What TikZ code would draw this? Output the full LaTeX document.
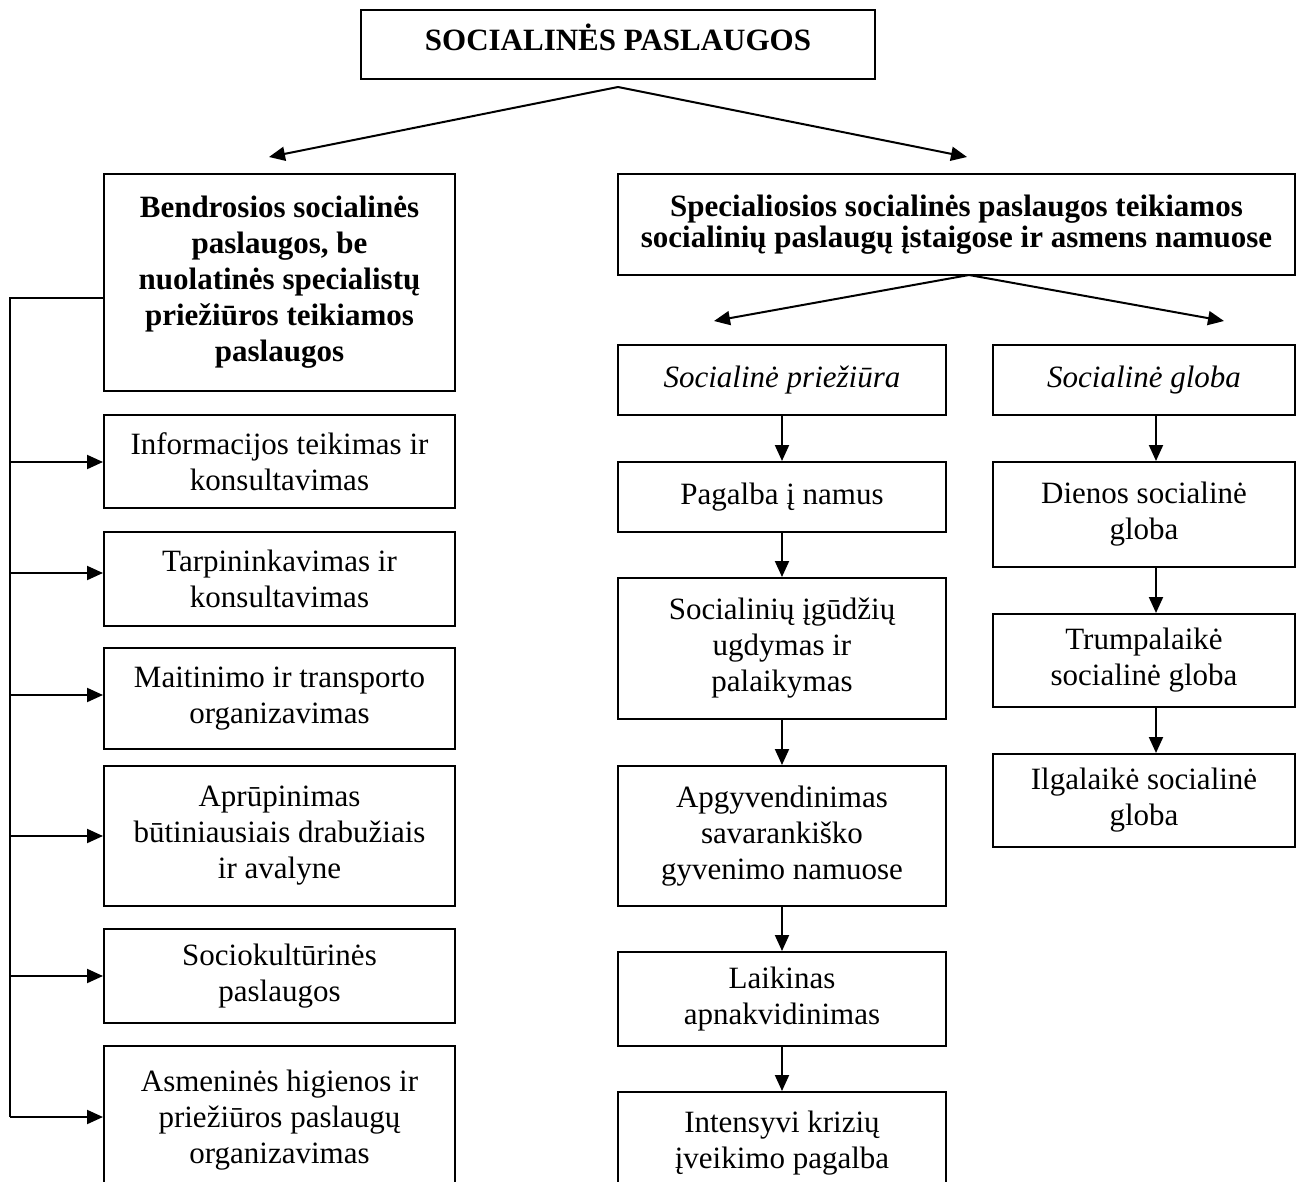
\documentclass[tikz,border=0pt]{standalone}
\usepackage{fontspec}
\setmainfont{Liberation Serif}
\usetikzlibrary{arrows.meta}
\newcommand\bx[7][]{%
  \node[box,#1,minimum width={(#5-#3)*0.5pt},minimum height={(#6-#4)*0.5pt}]
    (#2) at ({(#3+#5)/2},{(#4+#6)/2}) {#7};}
\begin{document}
\begin{tikzpicture}[x=0.5pt,y=-0.5pt,
  box/.style={draw,line width=1pt,inner sep=0pt,align=center,
    font=\fontsize{15.5}{18}\selectfont},
  tight/.style={font=\fontsize{15.5}{15.5}\selectfont\bfseries},
  arr/.style={line width=1pt,-{Triangle[length=8pt,width=7pt]}},
  ln/.style={line width=1pt}]
\useasboundingbox (0,0) rectangle (1301,1182);
% top
\bx[text depth=7pt]{top}{361}{10}{875}{79}{\textbf{SOCIALINĖS PASLAUGOS}}
\bx{bend}{104}{174}{455}{391}{\textbf{Bendrosios socialinės}\\\textbf{paslaugos, be}\\\textbf{nuolatinės specialistų}\\\textbf{priežiūros teikiamos}\\\textbf{paslaugos}}
\bx[tight]{spec}{618}{174}{1295}{275}{Specialiosios socialinės paslaugos teikiamos\\socialinių paslaugų įstaigose ir asmens namuose}
% left column
\bx{info}{104}{415}{455}{508}{Informacijos teikimas ir\\konsultavimas}
\bx{tarp}{104}{532}{455}{626}{Tarpininkavimas ir\\konsultavimas}
\bx{mait}{104}{648}{455}{749}{Maitinimo ir transporto\\organizavimas}
\bx{apru}{104}{766}{455}{906}{Aprūpinimas\\būtiniausiais drabužiais\\ir avalyne}
\bx{socio}{104}{929}{455}{1023}{Sociokultūrinės\\paslaugos}
\bx{asm}{104}{1046}{455}{1194}{Asmeninės higienos ir\\priežiūros paslaugų\\organizavimas}
% middle column
\bx{prie}{618}{345}{946}{415}{\itshape Socialinė priežiūra}
\bx{pag}{618}{462}{946}{532}{Pagalba į namus}
\bx{igud}{618}{578}{946}{719}{Socialinių įgūdžių\\ugdymas ir\\palaikymas}
\bx{apg}{618}{766}{946}{906}{Apgyvendinimas\\savarankiško\\gyvenimo namuose}
\bx{laik}{618}{952}{946}{1046}{Laikinas\\apnakvidinimas}
\bx{int}{618}{1092}{946}{1194}{Intensyvi krizių\\įveikimo pagalba}
% right column
\bx{glob}{993}{345}{1295}{415}{\itshape Socialinė globa}
\bx{dien}{993}{462}{1295}{567}{Dienos socialinė\\globa}
\bx{trum}{993}{614}{1295}{707}{Trumpalaikė\\socialinė globa}
\bx{ilg}{993}{754}{1295}{847}{Ilgalaikė socialinė\\globa}
% top arrows
\coordinate (ts) at (618,87);
\coordinate (tl) at (269,157);
\coordinate (tr) at (967,157);
\draw[arr] (ts) -- (tl);
\draw[arr] (ts) -- (tr);
% spec arrows
\coordinate (ss) at (969,275);
\coordinate (sl) at (714,321);
\coordinate (sr) at (1224,321);
\draw[arr] (ss) -- (sl);
\draw[arr] (ss) -- (sr);
% left bracket
\coordinate (bx) at (10,298);
\coordinate (bb) at (10,1117);
\draw[ln] (bend.west |- bx) -- (bx) -- (bb);
\draw[arr] (bx |- 0,462) -- (info.west |- 0,462);
\draw[arr] (bx |- 0,573) -- (tarp.west |- 0,573);
\draw[arr] (bx |- 0,695) -- (mait.west |- 0,695);
\draw[arr] (bx |- 0,836) -- (apru.west |- 0,836);
\draw[arr] (bx |- 0,976) -- (socio.west |- 0,976);
\draw[arr] (bb) -- (asm.west |- bb);
% middle arrows
\coordinate (xm) at (782,0);
\draw[arr] (prie.south -| xm) -- (pag.north -| xm);
\draw[arr] (pag.south -| xm) -- (igud.north -| xm);
\draw[arr] (igud.south -| xm) -- (apg.north -| xm);
\draw[arr] (apg.south -| xm) -- (laik.north -| xm);
\draw[arr] (laik.south -| xm) -- (int.north -| xm);
% right arrows
\coordinate (xr) at (1156,0);
\draw[arr] (glob.south -| xr) -- (dien.north -| xr);
\draw[arr] (dien.south -| xr) -- (trum.north -| xr);
\draw[arr] (trum.south -| xr) -- (ilg.north -| xr);
\end{tikzpicture}
\end{document}
